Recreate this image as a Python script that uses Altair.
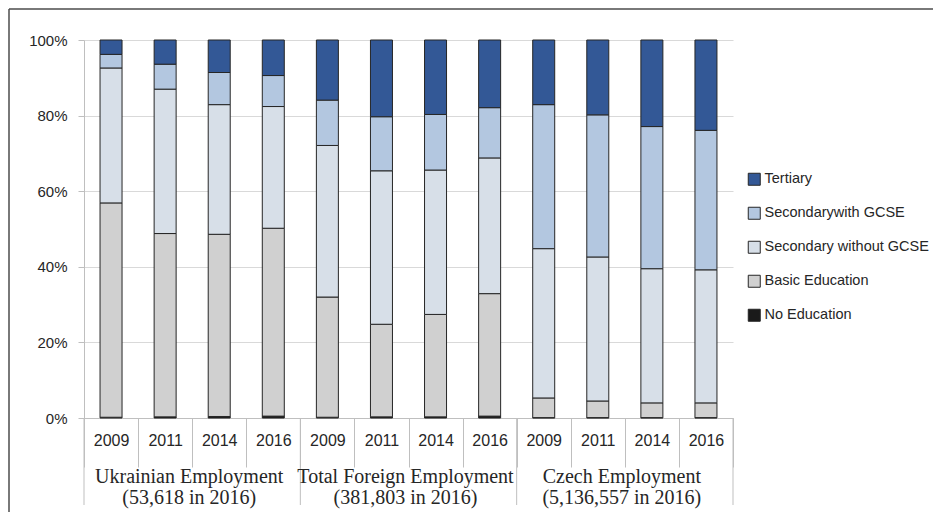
import altair as alt
import pandas as pd

groups = ["Ukrainian Employment", "Total Foreign Employment", "Czech Employment"]
group_codes = ["U", "F", "C"]
group_sub = ["(53,618 in 2016)", "(381,803 in 2016)", "(5,136,557 in 2016)"]
years = ["2009", "2011", "2014", "2016"]

categories = ["Tertiary", "Secondarywith GCSE", "Secondary without GCSE", "Basic Education", "No Education"]
colors = ["#335896", "#B3C7E0", "#D7DFE8", "#D0D0D0", "#1A1A1A"]

# percent shares, order per bar: Ukrainian 2009..2016, Foreign 2009..2016, Czech 2009..2016
no_education = [0.2, 0.3, 0.4, 0.5, 0.2, 0.3, 0.3, 0.5, 0.1, 0.1, 0.1, 0.1]
basic = [56.7, 48.5, 48.2, 49.7, 31.8, 24.5, 27.1, 32.4, 5.2, 4.4, 3.9, 3.9]
sec_without = [35.7, 38.2, 34.3, 32.2, 40.1, 40.6, 38.2, 35.9, 39.5, 38.1, 35.5, 35.2]
sec_with = [3.6, 6.6, 8.5, 8.2, 12.0, 14.3, 14.7, 13.3, 38.1, 37.6, 37.6, 36.9]
tertiary = [3.8, 6.4, 8.6, 9.4, 15.9, 20.3, 19.7, 17.9, 17.1, 19.8, 22.9, 23.9]

series = {
    "No Education": no_education,
    "Basic Education": basic,
    "Secondary without GCSE": sec_without,
    "Secondarywith GCSE": sec_with,
    "Tertiary": tertiary,
}
stack_rank = {"No Education": 0, "Basic Education": 1, "Secondary without GCSE": 2,
              "Secondarywith GCSE": 3, "Tertiary": 4}

keys = [f"{g}|{y}" for g in group_codes for y in years]

rows = []
for cat, vals in series.items():
    for k, v in zip(keys, vals):
        rows.append({"key": k, "category": cat, "value": v, "rank": stack_rank[cat]})
df = pd.DataFrame(rows)

W, H = 649, 378
AXIS_GREY = "#BFBFBF"
SANS = "Liberation Sans"

xscale = alt.Scale(domain=keys, paddingInner=0, paddingOuter=0)

bars = alt.Chart(df).mark_bar(width=22, stroke="#262626", strokeWidth=1).encode(
    x=alt.X("key:N", sort=keys, scale=xscale, title=None,
            axis=alt.Axis(labelExpr="split(datum.label, '|')[1]", labelAngle=0,
                          tickBand="extent", tickSize=49, tickColor=AXIS_GREY,
                          domainColor=AXIS_GREY, labelBaseline="middle", labelPadding=-27,
                          labelFont=SANS, labelFontSize=16, labelColor="#262626", grid=False)),
    y=alt.Y("value:Q", stack="normalize", title=None,
            axis=alt.Axis(format=".0%", values=[0, 0.2, 0.4, 0.6, 0.8, 1.0],
                          domainColor=AXIS_GREY, tickColor=AXIS_GREY, tickSize=6,
                          gridColor="#D9D9D9", labelFont=SANS, labelFontSize=15,
                          labelColor="#262626", labelPadding=11)),
    color=alt.Color("category:N", scale=alt.Scale(domain=categories, range=colors),
                    legend=alt.Legend(title=None, orient="none", legendX=663, legendY=132,
                                      symbolType="square", symbolSize=144,
                                      symbolStrokeColor="#262626", symbolStrokeWidth=1,
                                      labelFont=SANS, labelFontSize=14.5, labelColor="#262626",
                                      rowPadding=17, labelOffset=3, padding=0,
                                      labelLimit=300)),
    order=alt.Order("rank:Q", sort="ascending"),
)

sep_df = pd.DataFrame({"key": [f"{g}|2009" for g in group_codes]})
end_df = pd.DataFrame({"key": [keys[-1]]})

sep_start = alt.Chart(sep_df).mark_rule(color=AXIS_GREY, strokeWidth=1).encode(
    x=alt.X("key:N", sort=keys, scale=xscale, bandPosition=0),
    y=alt.value(H), y2=alt.value(H + 87),
)
sep_end = alt.Chart(end_df).mark_rule(color=AXIS_GREY, strokeWidth=1).encode(
    x=alt.X("key:N", sort=keys, scale=xscale, bandPosition=1),
    y=alt.value(H), y2=alt.value(H + 87),
)

lab_df = pd.DataFrame({
    "key": [f"{g}|2014" for g in group_codes],
    "label": [f"{a}\n{b}" for a, b in zip(groups, group_sub)],
})
group_labels = alt.Chart(lab_df).mark_text(
    font="Liberation Serif", fontSize=20, color="#262626", lineBreak="\n",
    lineHeight=21, baseline="alphabetic", align="center", dx=-3
).encode(
    x=alt.X("key:N", sort=keys, scale=xscale, bandPosition=0),
    y=alt.value(H + 65),
    text="label:N",
)

frame_df = pd.DataFrame({"k": [0]})
frame_left = alt.Chart(frame_df).mark_rule(color="#4D4D4D", strokeWidth=1.5).encode(
    x=alt.value(-75), y=alt.value(-31), y2=alt.value(H + 200),
)
frame_top = alt.Chart(frame_df).mark_rule(color="#4D4D4D", strokeWidth=1.5).encode(
    x=alt.value(-75), x2=alt.value(W + 300), y=alt.value(-31),
)

chart = alt.layer(bars, sep_start, sep_end, group_labels, frame_left, frame_top).properties(
    width=W, height=H,
    autosize="none",
    padding={"left": 76, "top": 32, "right": 200, "bottom": 94},
).configure_view(stroke=None)

chart.save("out.html", embed_options={"renderer": "svg", "actions": False})
